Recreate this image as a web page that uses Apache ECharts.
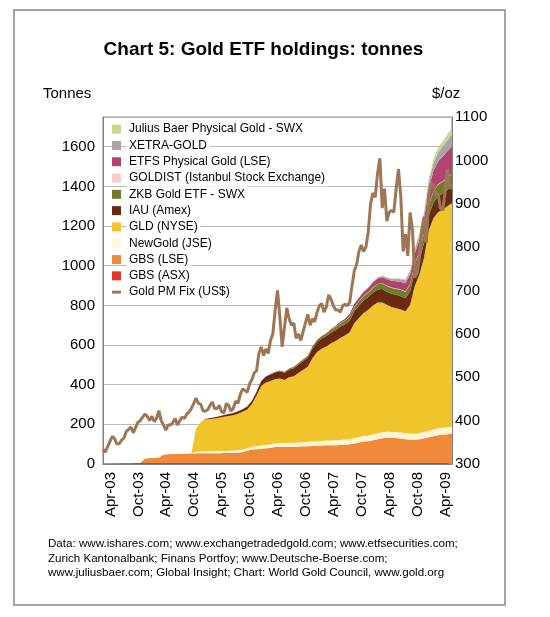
<!DOCTYPE html>
<html><head><meta charset="utf-8">
<script src="https://cdn.jsdelivr.net/npm/echarts@6/dist/echarts.min.js"></script>
<style>html,body{margin:0;padding:0;background:#fff}#c{width:550px;height:617px}</style>
</head><body><div id="c"></div>
<script>
const FONT = '"Liberation Sans", Arial, sans-serif';
const monthNames = ['Jan','Feb','Mar','Apr','May','Jun','Jul','Aug','Sep','Oct','Nov','Dec'];

// Monthly categories Apr-03 .. Jul-09 (values taken at start of month)
const categories = [];
for (let y = 2003, m = 3; categories.length < 76; ) {
  categories.push(monthNames[m] + '-' + String(y % 100).padStart(2, '0'));
  m++; if (m === 12) { m = 0; y++; }
}
// Semi-monthly categories for the gold price line
const goldCategories = [];
for (let i = 0; i < 75; i++) { goldCategories.push(categories[i] + ' (1)'); goldCategories.push(categories[i] + ' (15)'); }
goldCategories.push(categories[75]);

const gbsAsx = [1,2,3,3,4,4,4,5,5,5, 5,5,5,5,5,5,5,5,5,5, 5,5,5,5,5,5,5,5,5,5, 5,5,5,5,5,5,5,5,5,5,
  5,5,5,5,5,5,5,5,5,5, 5,5,5,5,5,5,5,5,5,5, 5,5,5,5,5,5,5,5,5,5, 5,5,5,5,5,5];
const gbsLse = [0,0,0,0,0,0,0,0,0,22, 24,25,27,42,44,45,46,46,47,48, 49,49,49,49,49,49,50,50,51,52,
  55,62,68,70,72,74,76,82,82,82, 82,82,83,84,85,86,87,88,89,90, 90,91,92,94,98,104,108,110,115,120,
  125,128,127,126,124,120,118,117,120,125, 130,135,140,143,145,148];
const newGold = [0,0,0,0,0,0,0,0,0,0, 0,0,0,0,0,0,0,0,0,0, 8,10,10,10,11,11,11,12,12,12,
  13,13,14,15,16,17,18,18,19,19, 20,20,21,21,22,22,23,23,24,24, 25,25,26,26,27,27,28,28,29,29,
  30,30,30,30,30,30,30,31,31,32, 33,34,35,35,35,35];
const gld = [0,0,0,0,0,0,0,0,0,0, 0,0,0,0,0,0,0,0,0,0, 120,145,160,163,165,168,172,175,178,185,
  190,195,215,255,300,315,320,322,325,318, 330,336,350,365,378,420,450,465,475,490,
  500,515,525,540,580,600,620,635,650,660, 655,640,630,625,620,615,650,745,800,880,
  1010,1065,1090,1100,1115,1128];
const iau = [0,0,0,0,0,0,0,0,0,0, 0,0,0,0,0,0,0,0,0,0, 0,0,3,5,6,8,9,10,11,12,
  13,15,17,20,25,30,33,35,37,36, 38,40,42,44,46,48,50,52,53,54, 55,56,57,58,60,62,63,64,65,66,
  67,66,66,67,67,66,68,70,72,74, 76,78,80,80,82,83];
const zkb = [0,0,0,0,0,0,0,0,0,0, 0,0,0,0,0,0,0,0,0,0, 0,0,0,0,0,0,0,0,0,0,
  0,0,0,0,0,0,2,3,4,5, 6,7,8,9,10,11,12,13,14,15, 16,17,18,19,20,21,22,23,24,26,
  28,29,30,31,32,33,36,40,44,48, 52,56,58,60,62,63];
const goldist = [0,0,0,0,0,0,0,0,0,0, 0,0,0,0,0,0,0,0,0,0, 0,0,0,0,0,0,0,0,0,0,
  0,0,0,0,0,0,0,0,0,0, 0,1,1,1,1,1,1,1,1,1, 1,1,1,2,2,2,2,2,2,2,
  2,2,2,2,2,2,2,2,2,3, 3,3,3,3,3,3];
const etfs = [0,0,0,0,0,0,0,0,0,0, 0,0,0,0,0,0,0,0,0,0, 0,0,0,0,0,0,0,0,0,0,
  0,0,0,0,0,0,0,0,0,0, 0,0,0,0,0,0,0,0,0,3, 5,7,9,12,15,18,20,22,25,28,
  30,32,34,36,38,40,45,50,58,68, 80,100,115,125,130,138];
const xetra = [0,0,0,0,0,0,0,0,0,0, 0,0,0,0,0,0,0,0,0,0, 0,0,0,0,0,0,0,0,0,0,
  0,0,0,0,0,0,0,0,0,0, 0,0,0,0,0,0,0,0,0,0, 0,0,0,0,0,1,2,3,4,5,
  6,8,10,12,14,16,18,20,24,28, 34,40,45,50,55,60];
const juliusBaer = [0,0,0,0,0,0,0,0,0,0, 0,0,0,0,0,0,0,0,0,0, 0,0,0,0,0,0,0,0,0,0,
  0,0,0,0,0,0,0,0,0,0, 0,0,0,0,0,0,0,0,0,0, 0,0,0,0,0,0,0,0,0,0,
  0,1,2,3,4,5,6,8,10,12, 15,20,24,27,30,33];

// Gold PM fix, US$/oz, 1st and 15th of each month Apr-03 .. Jun-09, plus end of Jun-09
const goldPrice = [
  334,327, 340,352, 364,358, 346,347, 355,360, 375,380, 385,372, 384,396, 400,408,
  415,410, 400,410, 398,405, 423,400, 390,378, 390,390, 395,405, 390,400, 408,405, 415,420, 428,440, 452,440,
  438,422, 422,425, 435,443, 428,428, 435,420, 418,440, 435,422, 428,445, 440,460, 473,470, 465,485, 495,510,
  515,555, 570,550, 565,555, 585,600, 655,700, 640,570, 615,660, 635,620, 625,590, 600,585, 605,625, 645,620,
  635,628, 650,665, 670,650, 662,690, 680,665, 655,655, 650,665, 668,665, 672,710, 745,760, 790,805, 790,800,
  835,900, 925,915, 970,1005, 890,935, 860,880, 885,880, 935,980, 915,790, 830,780, 880,840, 730,740, 775,840,
  870,810, 920,945, 945,920, 925,890, 885,925, 980,940,
  935];

const sourceLines = [
  'Data: www.ishares.com; www.exchangetradedgold.com; www.etfsecurities.com;',
  'Zurich Kantonalbank; Finans Portfoy; www.Deutsche-Boerse.com;',
  'www.juliusbaer.com; Global Insight; Chart: World Gold Council, www.gold.org'
];

const stackDefs = [
  ['GBS (ASX)', gbsAsx, '#e4352a'],
  ['GBS (LSE)', gbsLse, '#f08a3a'],
  ['NewGold (JSE)', newGold, '#fff6d6'],
  ['GLD (NYSE)', gld, '#f2c42c'],
  ['IAU (Amex)', iau, '#6a2a12'],
  ['ZKB Gold ETF - SWX', zkb, '#6f7d28'],
  ['GOLDIST (Istanbul Stock Exchange)', goldist, '#f8cfc8'],
  ['ETFS Physical Gold (LSE)', etfs, '#b3436e'],
  ['XETRA-GOLD', xetra, '#aaa4a8'],
  ['Julius Baer Physical Gold - SWX', juliusBaer, '#c9d68e']
];
const goldColor = '#9e7656';

const series = stackDefs.map(([name, data, color]) => ({
  name, type: 'line', stack: 'etf', data, color,
  xAxisIndex: 0, yAxisIndex: 0,
  symbol: 'none', showSymbol: false, silent: true,
  lineStyle: { width: 0 },
  areaStyle: { color, opacity: 1 },
  emphasis: { disabled: true }
}));
series.push({
  name: 'Gold PM Fix (US$)', type: 'line', data: goldPrice,
  xAxisIndex: 1, yAxisIndex: 1, color: goldColor,
  symbol: 'none', showSymbol: false, silent: true, z: 5,
  lineStyle: { width: 3, color: goldColor },
  emphasis: { disabled: true }
});

const legendData = stackDefs.slice().reverse().map(d => ({ name: d[0], icon: 'rect' }));
legendData.push({ name: 'Gold PM Fix (US$)', icon: 'path://M0,0H9V3H0Z' });

const chart = echarts.init(document.getElementById('c'), null, { renderer: 'canvas' });
chart.setOption({
  animation: false,
  backgroundColor: '#fff',
  textStyle: { fontFamily: FONT },
  grid: { left: 103, right: 98, top: 117, bottom: 153, show: true, borderColor: '#808080', borderWidth: 1, backgroundColor: '#fff' },
  legend: {
    orient: 'vertical', left: 112, top: 121, padding: 0,
    itemWidth: 9, itemHeight: 9, itemGap: 0, selectedMode: false,
    textStyle: { fontSize: 12, fontFamily: FONT, color: '#000', backgroundColor: '#fff', padding: [1, 3, 1, 3], lineHeight: 14.3 },
    data: legendData
  },
  xAxis: [
    { type: 'category', data: categories, boundaryGap: false, gridIndex: 0,
      axisLine: { lineStyle: { color: '#808080' } }, axisTick: { show: false },
      axisLabel: { interval: (i, v) => /^(Apr|Oct)/.test(v), rotate: 90, verticalAlign: 'top', margin: 8,
        fontSize: 15, fontFamily: FONT, color: '#000' },
      splitLine: { show: false } },
    { type: 'category', data: goldCategories, boundaryGap: false, gridIndex: 0, show: false }
  ],
  yAxis: [
    { type: 'value', min: 0, max: 1750, interval: 200,
      axisLine: { show: true, lineStyle: { color: '#808080' } }, axisTick: { show: false },
      axisLabel: { fontSize: 15, fontFamily: FONT, color: '#000', margin: 8, formatter: v => (v % 200 === 0 ? String(v) : '') },
      splitLine: { show: true, lineStyle: { color: '#b8b8b8', width: 1 } } },
    { type: 'value', position: 'right', min: 300, max: 1100, interval: 100,
      axisLine: { show: true, lineStyle: { color: '#808080' } }, axisTick: { show: false },
      axisLabel: { fontSize: 15, fontFamily: FONT, color: '#000', margin: 3, formatter: v => String(v) },
      splitLine: { show: false } }
  ],
  graphic: [
    { type: 'rect', shape: { x: 14, y: 10, width: 491, height: 595 }, style: { fill: 'none', stroke: '#a4a4a4', lineWidth: 2 }, silent: true },
    { type: 'text', style: { text: 'Chart 5: Gold ETF holdings: tonnes', x: 263.5, y: 50, font: 'bold 19px ' + FONT, fill: '#000', align: 'center', verticalAlign: 'middle', textAlign: 'center', textVerticalAlign: 'middle' }, silent: true },
    { type: 'text', style: { text: 'Tonnes', x: 43, y: 94, font: '15px ' + FONT, fill: '#000', align: 'left', verticalAlign: 'middle', textVerticalAlign: 'middle' }, silent: true },
    { type: 'text', style: { text: '$/oz', x: 432, y: 94, font: '15px ' + FONT, fill: '#000', align: 'left', verticalAlign: 'middle', textVerticalAlign: 'middle' }, silent: true },
    { type: 'text', style: { text: sourceLines.join('\n'), x: 48, y: 537, font: '11.6px ' + FONT, lineHeight: 14.5, fill: '#000', align: 'left', verticalAlign: 'top', textVerticalAlign: 'top' }, silent: true }
  ],
  series
});
</script></body></html>
